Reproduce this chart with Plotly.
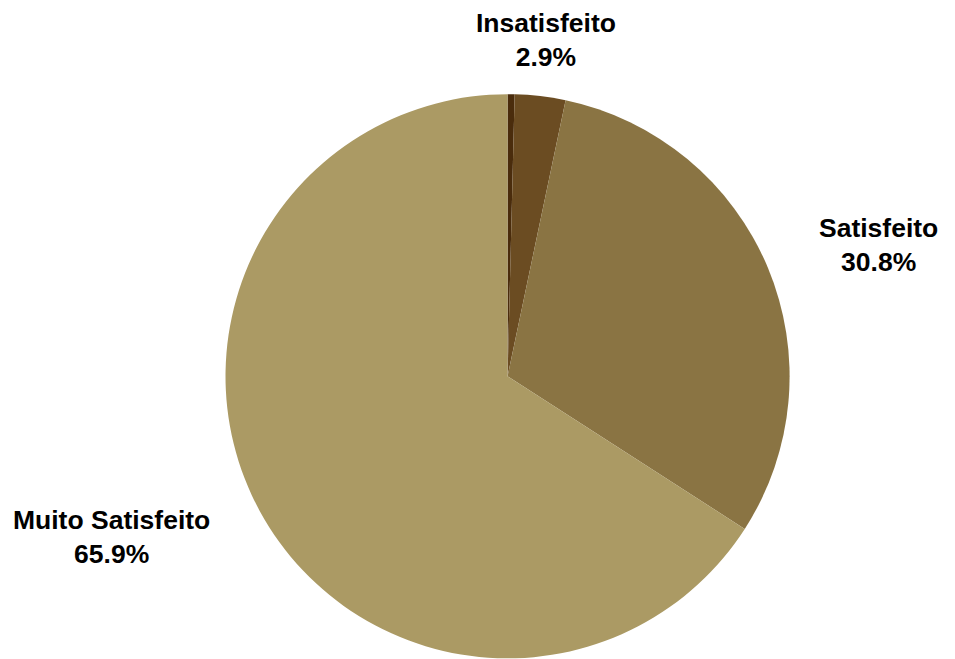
import plotly.graph_objects as go

labels = ["Muito Insatisfeito", "Insatisfeito", "Satisfeito", "Muito Satisfeito"]
values = [0.4, 2.9, 30.8, 65.9]
colors = ["#4a2c0c", "#6b4c22", "#8a7443", "#ab9a64"]
show_label = [False, True, True, True]

# label placement (paper coords) for the visible data labels
label_pos = {
    "Insatisfeito": (0.5634, 0.9522),
    "Satisfeito": (0.9110, 0.6404),
    "Muito Satisfeito": (0.1089, 0.1973),
}

total = sum(values)

fig = go.Figure(go.Pie(
    labels=labels,
    values=values,
    sort=False,
    direction="clockwise",
    rotation=0,
    marker=dict(colors=colors, line=dict(width=0)),
    textinfo="none",
    showlegend=False,
    hoverinfo="label+percent",
    domain=dict(x=[0.2276, 0.8186], y=[0.0131, 0.8691]),
))

annotations = []
for lab, val, show in zip(labels, values, show_label):
    if not show:
        continue
    x, y = label_pos[lab]
    annotations.append(dict(
        x=x, y=y, xref="paper", yref="paper",
        xanchor="center", yanchor="middle",
        showarrow=False,
        text=f"<b>{lab}</b><br><b>{val / total * 100:.1f}%</b>",
        font=dict(family="Liberation Sans, Arial, sans-serif", size=26.5, color="#000000"),
        align="center",
    ))

fig.update_layout(
    width=955, height=659,
    margin=dict(l=0, r=0, t=0, b=0),
    paper_bgcolor="#ffffff",
    plot_bgcolor="#ffffff",
    annotations=annotations,
)

fig.write_html("out.html")
